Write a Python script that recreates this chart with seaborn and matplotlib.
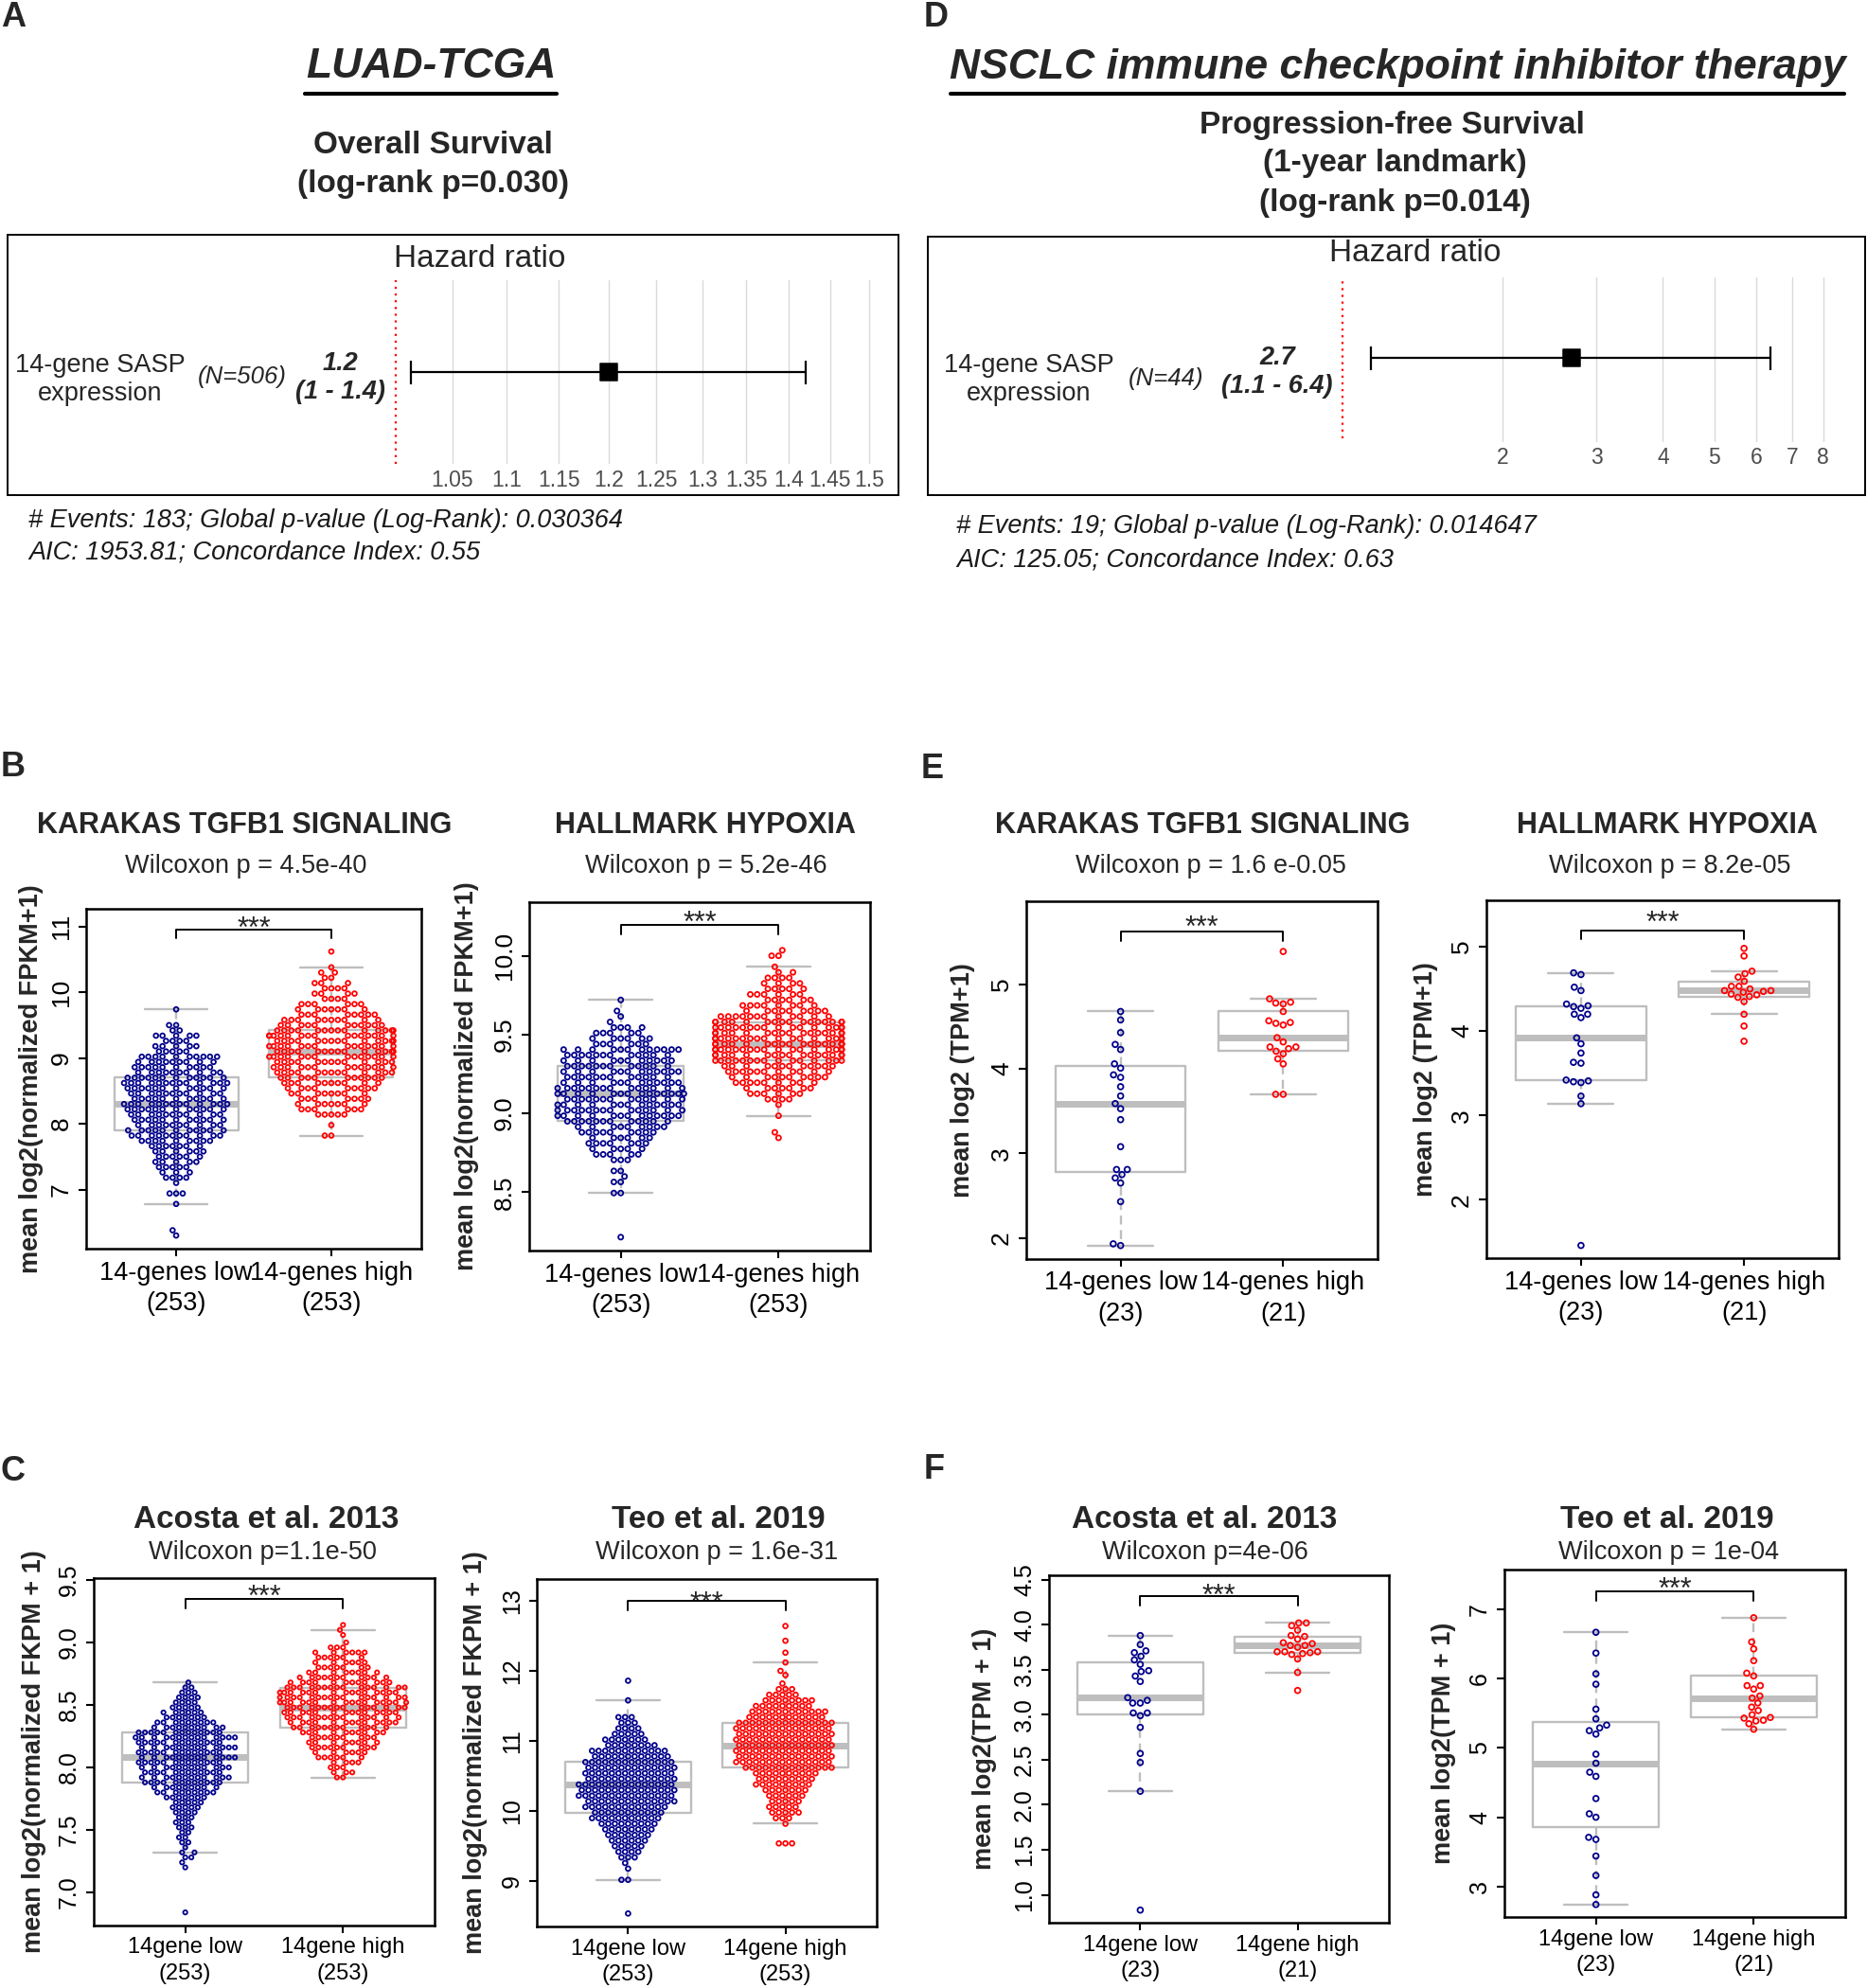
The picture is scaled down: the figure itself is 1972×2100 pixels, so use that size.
import warnings
import numpy as np
import pandas as pd
import matplotlib
matplotlib.use("Agg")
import matplotlib.pyplot as plt
import seaborn as sns
from matplotlib.lines import Line2D
from matplotlib.ticker import NullLocator

warnings.filterwarnings("ignore")

# ---------------- data ----------------
# forest plots (hazard ratio, 95% CI)
luad_n, luad_hr, luad_lo, luad_hi = 506, 1.2, 1.013, 1.42
luad_est, luad_ci = "1.2", "(1 - 1.4)"
luad_ticks = [1.05, 1.1, 1.15, 1.2, 1.25, 1.3, 1.35, 1.4, 1.45, 1.5]
luad_ticklabels = ["1.05", "1.1", "1.15", "1.2", "1.25", "1.3", "1.35", "1.4", "1.45", "1.5"]

icb_n, icb_hr, icb_lo, icb_hi = 44, 2.69, 1.13, 6.38
icb_est, icb_ci = "2.7", "(1.1 - 6.4)"
icb_ticks = [2, 3, 4, 5, 6, 7, 8]
icb_ticklabels = ["2", "3", "4", "5", "6", "7", "8"]

# TCGA beeswarms: row levels and number of points on each row
b1_low_lv = [6.30, 6.38, 6.78, 6.94, 7.10, 7.18, 7.26, 7.34, 7.42, 7.50, 7.58, 7.66, 7.74, 7.82,
             7.90, 7.98, 8.06, 8.14, 8.22, 8.30, 8.38, 8.46, 8.54, 8.62, 8.70, 8.78, 8.86, 8.94,
             9.02, 9.10, 9.18, 9.26, 9.34, 9.42, 9.50, 9.74]
b1_low_ct = [1, 1, 1, 3, 1, 4, 3, 5, 5, 6, 6, 7, 9, 11, 11, 10, 11, 11, 12, 13, 11, 11, 12, 13,
             12, 10, 10, 9, 10, 5, 5, 4, 5, 2, 2, 1]
b1_high_lv = [7.82, 7.98, 8.14, 8.22, 8.30, 8.38, 8.46, 8.54, 8.62, 8.70, 8.78, 8.86, 8.94, 9.02,
              9.10, 9.18, 9.26, 9.34, 9.42, 9.50, 9.58, 9.66, 9.74, 9.82, 9.90, 9.98, 10.06,
              10.14, 10.22, 10.30, 10.38, 10.62]
b1_high_ct = [2, 1, 5, 6, 7, 7, 8, 9, 10, 11, 13, 13, 13, 14, 14, 14, 14, 15, 14, 11, 10, 8, 7,
              6, 4, 4, 4, 3, 2, 2, 1, 1]

b2_low_lv = [8.215, 8.495, 8.565, 8.6, 8.635, 8.705, 8.74, 8.775, 8.81, 8.845, 8.88, 8.915,
             8.95, 8.985, 9.02, 9.055, 9.09, 9.125, 9.16, 9.195, 9.23, 9.265, 9.3, 9.335, 9.37,
             9.405, 9.44, 9.475, 9.51, 9.545, 9.58, 9.615, 9.65, 9.72]
b2_low_ct = [1, 2, 2, 1, 2, 3, 5, 5, 7, 6, 9, 9, 12, 13, 14, 13, 13, 14, 14, 12, 12, 12, 12, 11,
             12, 12, 6, 6, 5, 4, 1, 1, 1, 1]
b2_high_lv = [8.845, 8.88, 8.985, 9.055, 9.09, 9.125, 9.16, 9.195, 9.23, 9.265, 9.3, 9.335,
              9.37, 9.405, 9.44, 9.475, 9.51, 9.545, 9.58, 9.615, 9.65, 9.685, 9.72, 9.755,
              9.79, 9.825, 9.86, 9.895, 9.93, 10.0, 10.035]
b2_high_ct = [1, 1, 1, 1, 4, 6, 7, 9, 10, 11, 12, 15, 16, 17, 17, 17, 16, 16, 16, 12, 9, 8, 6,
              6, 5, 4, 4, 2, 1, 2, 1]

c1_low_lv = [6.84, 7.20, 7.24, 7.28, 7.32, 7.36, 7.40, 7.44, 7.48, 7.52, 7.56, 7.60, 7.64, 7.68,
             7.72, 7.76, 7.80, 7.84, 7.88, 7.92, 7.96, 8.00, 8.04, 8.08, 8.12, 8.16, 8.20, 8.24,
             8.28, 8.32, 8.36, 8.40, 8.44, 8.48, 8.52, 8.56, 8.60, 8.64, 8.68]
c1_low_ct = [1, 1, 1, 2, 2, 1, 2, 2, 2, 3, 3, 3, 4, 5, 5, 7, 9, 9, 12, 12, 12, 12, 13, 13, 13,
             13, 13, 14, 13, 10, 9, 7, 6, 5, 4, 4, 3, 2, 1]
c1_high_lv = [7.92, 7.96, 8.00, 8.04, 8.08, 8.12, 8.16, 8.20, 8.24, 8.28, 8.32, 8.36, 8.40, 8.44,
              8.48, 8.52, 8.56, 8.60, 8.64, 8.68, 8.72, 8.76, 8.80, 8.84, 8.88, 8.92, 8.96,
              9.00, 9.06, 9.10, 9.14]
c1_high_ct = [2, 3, 3, 4, 6, 6, 9, 8, 9, 10, 12, 13, 14, 14, 15, 16, 16, 15, 15, 12, 11, 8, 7,
              6, 6, 6, 3, 1, 1, 1, 1]

c2_low_lv = [8.54, 9.02, 9.18, 9.26, 9.34, 9.42, 9.50, 9.58, 9.66, 9.74, 9.82, 9.90, 9.98,
             10.06, 10.14, 10.22, 10.30, 10.38, 10.46, 10.54, 10.62, 10.70, 10.78, 10.86, 10.94,
             11.02, 11.10, 11.18, 11.26, 11.34, 11.58, 11.86]
c2_low_ct = [1, 2, 1, 1, 3, 4, 5, 6, 7, 8, 9, 11, 11, 13, 14, 15, 15, 15, 14, 14, 14, 14, 12,
             12, 8, 7, 5, 4, 3, 3, 1, 1]
c2_high_lv = [9.54, 9.82, 9.90, 9.98, 10.06, 10.14, 10.22, 10.30, 10.38, 10.46, 10.54, 10.62,
              10.70, 10.78, 10.86, 10.94, 11.02, 11.10, 11.18, 11.26, 11.34, 11.42, 11.50,
              11.58, 11.66, 11.74, 11.82, 11.94, 12.00, 12.12, 12.26, 12.43, 12.64]
c2_high_ct = [3, 1, 3, 5, 5, 5, 6, 7, 9, 9, 10, 14, 15, 15, 15, 15, 15, 15, 15, 15, 12, 12, 9,
              8, 5, 3, 1, 1, 1, 1, 1, 1, 1]

# NSCLC immunotherapy cohort: individual patients
e1_low = [1.91, 1.93, 2.43, 2.65, 2.71, 2.75, 2.81, 2.81, 3.08, 3.40, 3.53, 3.59, 3.68, 3.79,
          3.90, 3.93, 4.01, 4.06, 4.23, 4.29, 4.43, 4.58, 4.68]
e1_high = [3.70, 3.70, 4.06, 4.12, 4.18, 4.21, 4.24, 4.26, 4.26, 4.32, 4.37, 4.52, 4.54, 4.55,
           4.57, 4.68, 4.77, 4.78, 4.79, 4.83, 5.39]
e2_low = [1.46, 3.14, 3.23, 3.39, 3.40, 3.41, 3.42, 3.62, 3.63, 3.74, 3.85, 3.92, 4.16, 4.20,
          4.20, 4.27, 4.29, 4.30, 4.32, 4.48, 4.52, 4.67, 4.69]
e2_high = [3.88, 4.06, 4.20, 4.35, 4.40, 4.41, 4.43, 4.44, 4.46, 4.47, 4.48, 4.48, 4.50, 4.53,
           4.53, 4.59, 4.64, 4.68, 4.71, 4.89, 4.98]
f1_low = [0.83, 2.15, 2.47, 2.57, 2.86, 2.99, 3.02, 3.02, 3.13, 3.13, 3.16, 3.19, 3.37, 3.43,
          3.48, 3.49, 3.56, 3.61, 3.65, 3.69, 3.71, 3.78, 3.88]
f1_high = [3.27, 3.47, 3.62, 3.67, 3.68, 3.69, 3.70, 3.70, 3.70, 3.75, 3.77, 3.77, 3.79, 3.80,
           3.84, 3.87, 3.88, 3.94, 3.99, 4.02, 4.02]
f2_low = [2.74, 2.88, 3.16, 3.44, 3.68, 3.71, 4.00, 4.05, 4.27, 4.59, 4.65, 4.78, 4.91, 5.20,
          5.25, 5.29, 5.33, 5.42, 5.56, 5.92, 6.07, 6.37, 6.67]
f2_high = [5.27, 5.35, 5.39, 5.40, 5.43, 5.44, 5.48, 5.54, 5.59, 5.65, 5.72, 5.75, 5.85, 5.90,
           5.90, 6.04, 6.08, 6.26, 6.43, 6.53, 6.88]

NAVY = "#00008B"
RED = "#FF0000"
GREY = "#BEBEBE"

sns.set_theme(style="white")
plt.rcParams["font.family"] = ["Liberation Sans", "DejaVu Sans"]

W, H = 1972, 2100
fig = plt.figure(figsize=(W / 100, H / 100), dpi=100)


def fx(px):
    return px / W


def fy(py):
    return 1 - py / H


def put(x, y, s, size, **kw):
    kw.setdefault("ha", "center")
    kw.setdefault("va", "center")
    fig.text(fx(x), fy(y), s, fontsize=size, **kw)


def add_ax(x0, y0, x1, y1):
    return fig.add_axes([fx(x0), fy(y1), (x1 - x0) / W, (y1 - y0) / H])


def forest(frame, area, xlim, ticks, ticklabels, hr, lo, hi, ci_y, red_y, hr_title, name_xy,
           n, n_xy, est, ci, est_xy, foot, foot_xy):
    fr = add_ax(*frame)
    fr.set_xticks([])
    fr.set_yticks([])
    fr.set_facecolor("white")
    for s in fr.spines.values():
        s.set_visible(True)
        s.set_color("black")
        s.set_linewidth(1.4)

    ax = add_ax(*area)
    ax.set_facecolor("none")
    ax.set_xscale("log")
    ax.set_axisbelow(True)
    ax.errorbar(hr, ci_y, xerr=[[hr - lo], [hi - hr]], fmt="none", ecolor="black",
                elinewidth=1.6, capsize=9, capthick=1.6, zorder=2)
    sns.scatterplot(x=[hr], y=[ci_y], marker="s", s=185, color="black", edgecolor="black",
                    ax=ax, zorder=3, legend=False)
    ax.axvline(1, ymin=red_y[0], ymax=red_y[1], color="red", ls=(0, (1, 2.2)), lw=1.6)
    ax.set_xlim(*xlim)
    ax.set_ylim(0, 1)
    ax.set_xticks(ticks, labels=ticklabels)
    ax.xaxis.set_minor_locator(NullLocator())
    ax.grid(axis="x", color="#DADADA", lw=1.0)
    ax.grid(axis="y", visible=False)
    ax.set_yticks([])
    ax.set_xlabel("")
    ax.set_ylabel("")
    for s in ax.spines.values():
        s.set_visible(False)
    ax.tick_params(axis="x", length=0, pad=4, labelsize=16.5, labelcolor="#4D4D4D")

    put(hr_title[0], hr_title[1], "Hazard ratio", 24)
    put(name_xy[0], name_xy[1], "14-gene SASP\nexpression", 19.5)
    put(n_xy[0], n_xy[1], f"(N={n})", 18.5, fontstyle="italic")
    put(est_xy[0], est_xy[1], f"{est}\n{ci}", 19.5, fontweight="bold", fontstyle="italic")
    put(foot_xy[0], foot_xy[1], foot[0], 19.5, fontstyle="italic", ha="left", color="#1a1a1a")
    put(foot_xy[0], foot_xy[2], foot[1], 19.5, fontstyle="italic", ha="left", color="#1a1a1a")


def swarm_panel(rect, lo_vals, hi_vals, names, ylim, yticks, yfmt, ylabel, ylab_x, title,
                title_xy, tsize, sub, sub_xy, tick_size, xl_size, brk, star, dot_px):
    x0, y0, x1, y1 = rect
    ax = add_ax(*rect)
    ax.set_facecolor("white")
    df = pd.DataFrame({
        "group": [names[0]] * len(lo_vals) + [names[1]] * len(hi_vals),
        "value": np.concatenate([np.asarray(lo_vals, float), np.asarray(hi_vals, float)]),
    })
    sns.boxplot(data=df, x="group", y="value", order=list(names), fill=False, color=GREY,
                width=0.8, linewidth=1.7, showfliers=False,
                medianprops=dict(linewidth=5, color=GREY),
                whiskerprops=dict(linestyle=(0, (4, 2.5))), ax=ax)
    # outer circle diameter in points = marker size + edge width
    lw = 1.3
    sns.swarmplot(data=df, x="group", y="value", order=list(names), hue="group",
                  hue_order=list(names), palette=[NAVY, RED], size=dot_px * 0.72 - lw,
                  linewidth=lw, legend=False, ax=ax, zorder=3)
    for coll in ax.collections:
        fc = coll.get_facecolor()
        coll.set_edgecolor(fc)
        coll.set_facecolor("none")

    ax.set_xlim(-0.58, 1.58)
    ax.set_ylim(*ylim)
    ax.set_yticks(yticks, labels=[yfmt.format(t) for t in yticks])
    ax.set_xticks([0, 1], labels=[f"{names[0]}\n({len(lo_vals)})",
                                  f"{names[1]}\n({len(hi_vals)})"])
    for lbl in ax.get_xticklabels():
        lbl.set_linespacing(1.32)
    ax.set_xlabel("")
    ax.set_ylabel(ylabel, fontsize=19.5, fontweight="bold", va="center")
    ax.yaxis.set_label_coords((ylab_x - x0) / (x1 - x0), 0.5)
    for s in ax.spines.values():
        s.set_visible(True)
        s.set_color("black")
        s.set_linewidth(1.8)
    ax.tick_params(axis="both", which="major", direction="out", length=6, width=1.5,
                   color="black", left=True, bottom=True, labelcolor="black")
    ax.tick_params(axis="y", labelsize=tick_size, labelrotation=90, pad=4)
    ax.tick_params(axis="x", labelsize=xl_size, pad=3)
    for lbl in ax.get_yticklabels():
        lbl.set_va("center")

    h = y1 - y0
    yl = 1 - brk / h
    yb = 1 - (brk + 9.5) / h
    tr = ax.get_xaxis_transform()
    ax.plot([0, 0, 1, 1], [yb, yl, yl, yb], transform=tr, color="black", lw=1.4,
            clip_on=False, zorder=4)
    # asterisks sit high in the em box: anchor on the baseline
    ax.text(0.5, 1 - (star + 18) / h, "***", transform=tr, ha="center", va="baseline",
            fontsize=22)

    put(title_xy[0], title_xy[1] + 3, title, tsize, fontweight="bold")
    put(sub_xy[0], sub_xy[1] + 1, sub, 19.5)


# ---------------- top titles ----------------
put(1, 18, "A", 26, fontweight="bold", ha="left")
put(976, 18, "D", 26, fontweight="bold", ha="left")
put(1, 811, "B", 26, fontweight="bold", ha="left")
put(973, 812, "E", 26, fontweight="bold", ha="left")
put(1, 1554, "C", 26, fontweight="bold", ha="left")
put(976, 1552, "F", 26, fontweight="bold", ha="left")

put(455, 71, "LUAD-TCGA", 32, fontweight="bold", fontstyle="italic")
fig.add_artist(Line2D([fx(322), fx(588)], [fy(99), fy(99)], color="black", lw=3))
put(457, 154, "Overall Survival", 24, fontweight="bold")
put(457, 194, "(log-rank p=0.030)", 24, fontweight="bold")

put(1476, 71, "NSCLC immune checkpoint inhibitor therapy", 32, fontweight="bold",
    fontstyle="italic")
fig.add_artist(Line2D([fx(1004), fx(1948)], [fy(99), fy(99)], color="black", lw=3))
put(1470, 132, "Progression-free Survival", 24, fontweight="bold")
put(1473, 173, "(1-year landmark)", 24, fontweight="bold")
put(1473, 214, "(log-rank p=0.014)", 24, fontweight="bold")

# ---------------- forest plots ----------------
forest((8, 248, 949, 523), (8, 296, 949, 490), (0.7176, 1.5376), luad_ticks, luad_ticklabels,
       luad_hr, luad_lo, luad_hi, 0.5, (0.0, 1.0), (507, 273), (106, 401),
       luad_n, (256, 398), luad_est, luad_ci, (359, 399),
       ("# Events: 183; Global p-value (Log-Rank): 0.030364",
        "AIC: 1953.81; Concordance Index: 0.55"), (30, 550, 583))

forest((980, 250, 1970, 523), (980, 292.6, 1970, 466.6), (0.166, 9.598), icb_ticks,
       icb_ticklabels, icb_hr, icb_lo, icb_hi, 0.51, (0.023, 0.977), (1495, 268), (1087, 401),
       icb_n, (1232, 400), icb_est, icb_ci, (1349, 393),
       ("# Events: 19; Global p-value (Log-Rank): 0.014647",
        "AIC: 125.05; Concordance Index: 0.63"), (1010, 556, 592))

# ---------------- beeswarm panels ----------------
tcga_names = ("14-genes low", "14-genes high")
gene_names = ("14gene low", "14gene high")
ylab_fpkm = "mean log2(normalized FPKM+1)"
ylab_fkpm = "mean log2(normalized FKPM + 1)"

swarm_panel((91, 960, 445, 1319), np.repeat(b1_low_lv, b1_low_ct), np.repeat(b1_high_lv, b1_high_ct),
            tcga_names, (6.10, 11.27), [7, 8, 9, 10, 11], "{:.0f}", ylab_fpkm, 33,
            "KARAKAS TGFB1 SIGNALING", (258, 869), 22, "Wilcoxon p = 4.5e-40", (260, 914),
            19, 19.5, 22, 12, 6.6)
swarm_panel((559, 953, 919, 1321), np.repeat(b2_low_lv, b2_low_ct), np.repeat(b2_high_lv, b2_high_ct),
            tcga_names, (8.13, 10.34), [8.5, 9.0, 9.5, 10.0], "{:.1f}", ylab_fpkm, 493,
            "HALLMARK HYPOXIA", (745, 869), 22, "Wilcoxon p = 5.2e-46", (746, 914),
            19, 19.5, 24, 13, 6.95)
swarm_panel((1084, 952, 1455, 1330), e1_low, e1_high, tcga_names, (1.75, 5.985), [2, 3, 4, 5],
            "{:.0f}", "mean log2 (TPM+1)", 1017, "KARAKAS TGFB1 SIGNALING", (1270, 869), 22,
            "Wilcoxon p = 1.6 e-0.05", (1279, 914), 19, 19.5, 32, 19, 7.6)
swarm_panel((1570, 951, 1942, 1329), e2_low, e2_high, tcga_names, (1.31, 5.55), [2, 3, 4, 5],
            "{:.0f}", "mean log2 (TPM+1)", 1506, "HALLMARK HYPOXIA", (1761, 869), 22,
            "Wilcoxon p = 8.2e-05", (1764, 914), 19, 19.5, 32, 15, 7.6)
swarm_panel((99, 1667, 459, 2034), np.repeat(c1_low_lv, c1_low_ct), np.repeat(c1_high_lv, c1_high_ct),
            gene_names, (6.735, 9.515), [7.0, 7.5, 8.0, 8.5, 9.0, 9.5], "{:.1f}", ylab_fkpm, 36,
            "Acosta et al. 2013", (281, 1602), 24, "Wilcoxon p=1.1e-50", (277, 1639),
            18, 17, 22, 11, 6.15)
swarm_panel((567, 1668, 926, 2035), np.repeat(c2_low_lv, c2_low_ct), np.repeat(c2_high_lv, c2_high_ct),
            gene_names, (8.355, 13.31), [9, 10, 11, 12, 13], "{:.0f}", ylab_fkpm, 502,
            "Teo et al. 2019", (759, 1602), 24, "Wilcoxon p = 1.6e-31", (757, 1639),
            18, 17, 23, 17, 6.65)
swarm_panel((1108, 1664, 1467, 2031), f1_low, f1_high, gene_names, (0.69, 4.55),
            [1.0, 1.5, 2.0, 2.5, 3.0, 3.5, 4.0, 4.5], "{:.1f}", "mean log2(TPM + 1)", 1040,
            "Acosta et al. 2013", (1272, 1602), 24, "Wilcoxon p=4e-06", (1273, 1639),
            18, 17, 22, 13, 7.6)
swarm_panel((1589, 1658, 1949, 2025), f2_low, f2_high, gene_names, (2.56, 7.575),
            [3, 4, 5, 6, 7], "{:.0f}", "mean log2(TPM + 1)", 1525,
            "Teo et al. 2019", (1761, 1602), 24, "Wilcoxon p = 1e-04", (1762, 1639),
            18, 17, 23, 12, 7.6)

fig.savefig("out.png", dpi=100, facecolor="white")
